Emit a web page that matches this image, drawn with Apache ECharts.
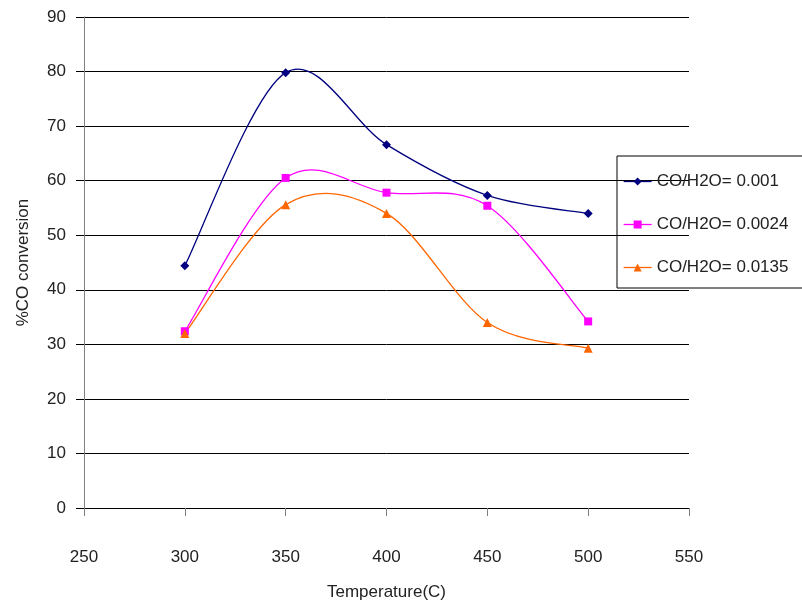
<!DOCTYPE html>
<html><head><meta charset="utf-8">
<script src="https://cdn.jsdelivr.net/npm/echarts@6/dist/echarts.min.js"></script>
<style>html,body{margin:0;padding:0;background:#fff}#c{width:802px;height:606px}</style>
</head><body><div id="c"></div>
<script>
const temps = [300, 350, 400, 450, 500];
const s1 = [44.4, 79.8, 66.6, 57.3, 54.0];
const s2 = [32.4, 60.5, 57.8, 55.4, 34.2];
const s3 = [32.0, 55.6, 54.0, 34.0, 29.3];
const names = ['CO/H2O= 0.001', 'CO/H2O= 0.0024', 'CO/H2O= 0.0135'];
const colors = ['#000080', '#FF00FF', '#FF6600'];
const symbols = ['diamond', 'rect', 'triangle'];
const sizes = [9, 8, 9];
const font = 'Liberation Sans, Arial, sans-serif';
const allSeries = [s1, s2, s3];
const pair = v => temps.map((t, i) => [t, v[i]]);

// Excel-like (Catmull-Rom) smoothed segment drawn through the chart's scales
function curveRenderer(v, color) {
  return function (params, api) {
    const i = params.dataIndex;
    const n = v.length;
    if (i >= n - 1) return null;
    const P = j => api.coord([temps[Math.max(0, Math.min(n - 1, j))], v[Math.max(0, Math.min(n - 1, j))]]);
    const p0 = P(i - 1), p1 = P(i), p2 = P(i + 1), p3 = P(i + 2);
    const k = 1 / 6;
    return {
      type: 'bezierCurve',
      shape: {
        x1: p1[0], y1: p1[1], x2: p2[0], y2: p2[1],
        cpx1: p1[0] + (p2[0] - p0[0]) * k, cpy1: p1[1] + (p2[1] - p0[1]) * k,
        cpx2: p2[0] - (p3[0] - p1[0]) * k, cpy2: p2[1] - (p3[1] - p1[1]) * k
      },
      style: {stroke: color, lineWidth: 1.3, fill: null}
    };
  };
}

const chart = echarts.init(document.getElementById('c'));
const series = [];
allSeries.forEach((v, i) => {
  series.push({
    name: names[i], type: 'line', data: pair(v), z: 5,
    symbol: symbols[i], symbolSize: sizes[i],
    lineStyle: {color: colors[i], width: 1.3, opacity: 0},
    itemStyle: {color: colors[i]}
  });
});
allSeries.forEach((v, i) => {
  series.push({
    name: names[i], type: 'custom', data: pair(v), z: 2,
    encode: {x: 0, y: 1},
    renderItem: curveRenderer(v, colors[i])
  });
});

chart.setOption({
  animation: false,
  grid: {left: 84, right: 113, top: 17, bottom: 97},
  textStyle: {fontFamily: font},
  legend: {
    orient: 'vertical', left: 617, top: 156,
    padding: [17, 30, 12, 6],
    itemGap: 26, itemWidth: 28, itemHeight: 10,
    borderColor: '#000', borderWidth: 1,
    textStyle: {fontSize: 17, color: '#222', fontFamily: font},
    data: names.map((n, i) => ({name: n, lineStyle: {color: colors[i], width: 1.3, opacity: 1}}))
  },
  xAxis: {
    type: 'value', min: 250, max: 550, interval: 50,
    name: 'Temperature(C)', nameLocation: 'middle', nameGap: 76,
    nameTextStyle: {fontSize: 17, color: '#222', fontFamily: font},
    axisLine: {onZero: false, lineStyle: {color: '#000', width: 1}},
    axisTick: {show: true, length: 8, lineStyle: {color: '#808080'}},
    axisLabel: {margin: 41, fontSize: 17, color: '#222', fontFamily: font},
    splitLine: {show: false}
  },
  yAxis: {
    type: 'value', min: 0, max: 90, interval: 10,
    name: '%CO conversion', nameLocation: 'middle', nameGap: 52,
    nameTextStyle: {fontSize: 17, color: '#222', fontFamily: font},
    axisLine: {show: true, lineStyle: {color: '#808080', width: 1}},
    axisTick: {show: true, length: 8, lineStyle: {color: '#000'}},
    axisLabel: {margin: 18, fontSize: 17, color: '#222', fontFamily: font},
    splitLine: {show: true, lineStyle: {color: '#000', width: 1}}
  },
  series: series
});
</script></body></html>
